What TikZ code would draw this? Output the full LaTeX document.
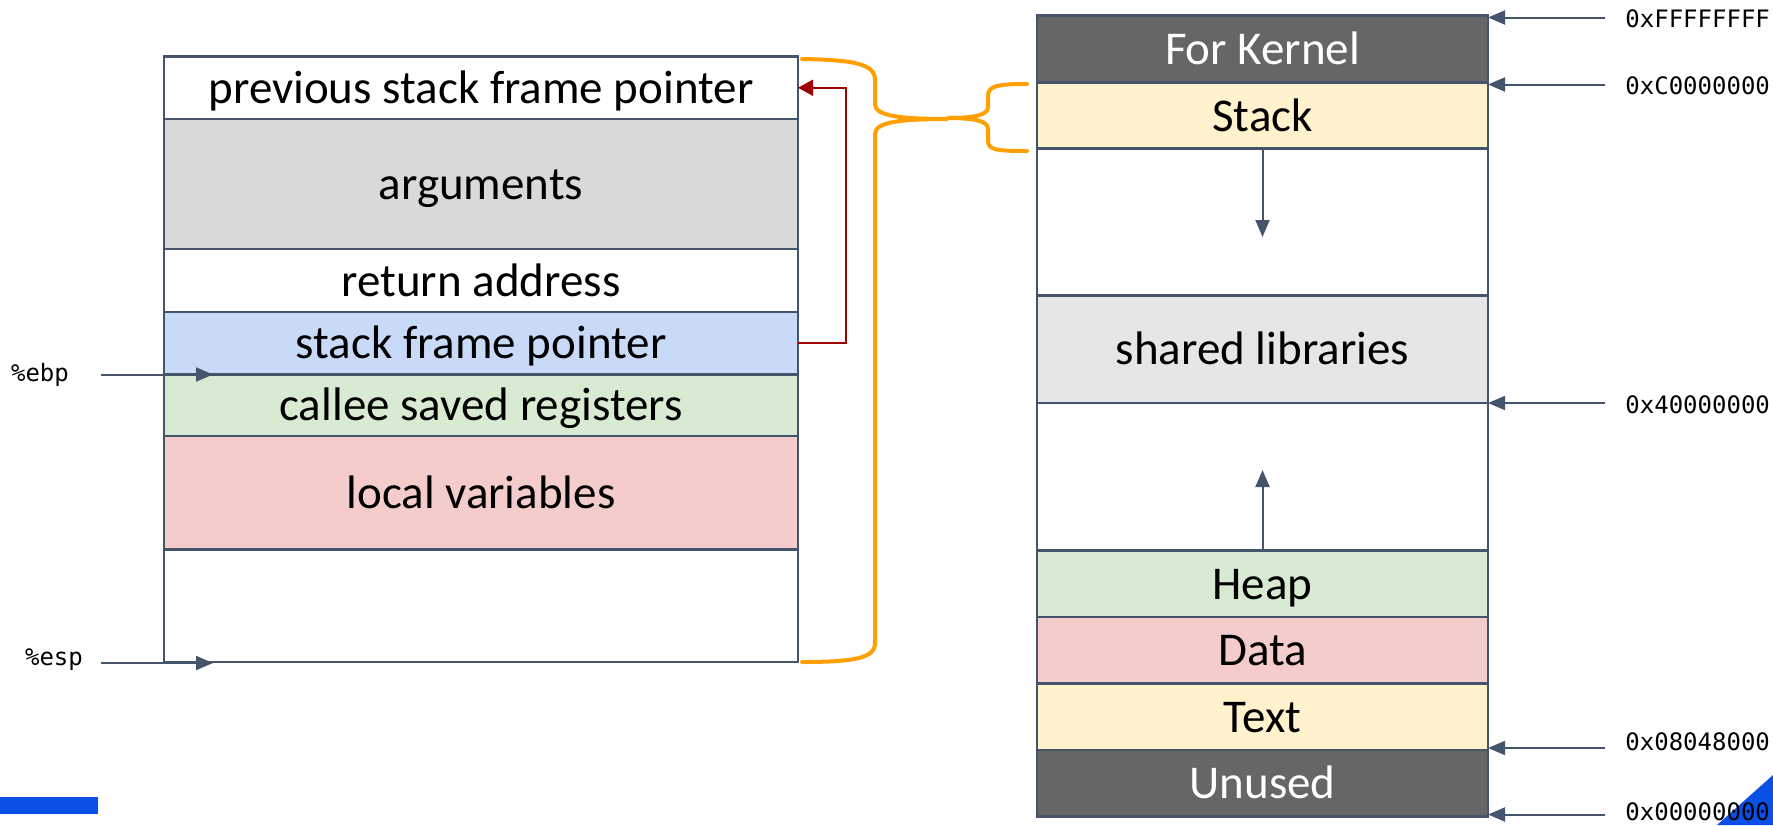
\documentclass[tikz,border=0pt]{standalone}
\usepackage{fontspec}
\setmainfont{Carlito}
\newfontfamily\addrfont{DejaVu Sans Mono}
\usetikzlibrary{arrows.meta}
\definecolor{frame}{HTML}{44546A}
\definecolor{kerngray}{HTML}{666666}
\definecolor{paleyellow}{HTML}{FFF2CC}
\definecolor{argsgray}{HTML}{D9D9D9}
\definecolor{libgray}{HTML}{E6E6E6}
\definecolor{paleblue}{HTML}{C9DAF8}
\definecolor{palegreen}{HTML}{D9EAD3}
\definecolor{palered}{HTML}{F4CCCC}
\definecolor{linkred}{HTML}{A00000}
\definecolor{braceorange}{HTML}{FFA000}
\definecolor{slideblue}{HTML}{0B50E6}
\begin{document}
\begin{tikzpicture}[x=0.5pt,y=-0.5pt,
  cell/.style={draw=frame, line width=1.2pt, inner sep=0pt, outer sep=0pt,
    text height=17.5pt, text depth=2pt,
    font=\fontsize{23.5}{28}\selectfont},
  lcell/.style={cell, minimum width=317pt},
  rcell/.style={cell, minimum width=225.5pt},
  reg/.style={font=\addrfont\fontsize{12}{14}\selectfont, inner sep=0pt},
  ptr/.style={draw=frame, line width=1pt, -{Triangle[length=8.5pt,width=7pt]}},
  link/.style={draw=linkred, line width=0.85pt, -{Triangle[length=7.5pt,width=8pt]}},
  brace/.style={draw=braceorange, line width=2pt, line cap=round}]
\useasboundingbox (0,0) rectangle (1773,825);

% ---- slide decorations (behind everything) ----
\fill[slideblue] (0,797) rectangle (98,814);
\fill[slideblue] (1717,825) -- (1773,775) -- (1773,825) -- cycle;

% ---- stack frame (left) ----
\node[lcell, minimum height=31.25pt] (prev)   at (481,87.75)  {previous stack frame pointer};
\node[lcell, minimum height=65pt, fill=argsgray] (args) at (481,184) {arguments};
\node[lcell, minimum height=31.5pt] (ret)     at (481,280.5)  {return address};
\node[lcell, minimum height=31.25pt, fill=paleblue] (sfp) at (481,343.25) {stack frame pointer};
\node[lcell, minimum height=30.75pt, fill=palegreen] (callee) at (481,405.25) {callee saved registers};
\node[lcell, minimum height=56.75pt, fill=palered] (locals) at (481,492.75) {local variables};
\node[lcell, minimum height=56.25pt] (free)   at (481,605.75) {};

% saved frame pointer links back to the previous frame
\coordinate (bend) at (846,0);
\draw[link] (sfp.east) -- (sfp.east -| bend) -- (prev.east -| bend) -- (prev.east);

% register pointers
\node[reg] (ebp) at (40,375) {\%ebp};
\node[reg] (esp) at (54,660) {\%esp};
\coordinate (ebptip) at (213,374.5);
\coordinate (esptip) at (213,663);
\draw[ptr] ([xshift=16pt]ebp.east |- ebptip) -- (ebptip);
\draw[ptr] ([xshift=9pt]esp.east |- esptip) -- (esptip);

% ---- process address space (right) ----
\node[rcell, minimum height=33.5pt, fill=kerngray, text=white] (kernel) at (1262.5,49) {For Kernel};
\node[rcell, minimum height=33pt, fill=paleyellow] (stack) at (1262.5,115.5) {Stack};
\node[rcell, minimum height=73.5pt] (gapa) at (1262.5,222) {};
\node[rcell, minimum height=53.75pt, fill=libgray] (shlib) at (1262.5,349.25) {shared libraries};
\node[rcell, minimum height=73.75pt] (gapb) at (1262.5,476.75) {};
\node[rcell, minimum height=33.25pt, fill=palegreen] (heap) at (1262.5,583.75) {Heap};
\node[rcell, minimum height=33.25pt, fill=palered] (data) at (1262.5,650.25) {Data};
\node[rcell, minimum height=33.25pt, fill=paleyellow] (text) at (1262.5,716.75) {Text};
\node[rcell, minimum height=33.25pt, fill=kerngray, text=white] (unused) at (1262.5,783.25) {Unused};

% growth directions
\coordinate (downtip) at (1262.5,237);
\coordinate (uptip) at (1262.5,470);
\draw[ptr] (stack.south) -- (downtip);
\draw[ptr] (heap.north) -- (uptip);

% address labels
\node[reg, anchor=west] (aF) at (1625,19)  {0xFFFFFFFF};
\node[reg, anchor=west] (aC) at (1625,86)  {0xC0000000};
\node[reg, anchor=west] (a4) at (1625,405) {0x40000000};
\node[reg, anchor=west] (a8) at (1625,742) {0x08048000};
\node[reg, anchor=west] (a0) at (1625,812) {0x00000000};
\draw[ptr] ([xshift=-10pt,yshift=-1pt]aF.west |- kernel.north east) -- ([yshift=-1pt]kernel.north east);
\draw[ptr] ([xshift=-10pt,yshift=-1pt]aC.west |- stack.north east) -- ([yshift=-1pt]stack.north east);
\draw[ptr] ([xshift=-10pt]a4.west |- shlib.south east) -- (shlib.south east);
\draw[ptr] ([xshift=-10pt,yshift=1pt]a8.west |- text.south east) -- ([yshift=1pt]text.south east);
\draw[ptr] ([xshift=-10pt,yshift=1pt]a0.west |- unused.south east) -- ([yshift=1pt]unused.south east);

% ---- braces tying the frame to the stack region ----
\draw[brace] (802,59) .. controls (855,60) and (875,64) .. (875,80) -- (875,104)
  .. controls (875,116) and (900,119) .. (948,119)
  .. controls (900,119) and (875,122) .. (875,134) -- (875,643)
  .. controls (875,658) and (855,662) .. (802,662);
\draw[brace] (1027,84) .. controls (997,84) and (988,86) .. (988,96) -- (988,107)
  .. controls (988,115) and (975,118) .. (947,118)
  .. controls (975,118) and (988,121) .. (988,129) -- (988,141)
  .. controls (988,150) and (997,151) .. (1027,151);
\end{tikzpicture}
\end{document}
